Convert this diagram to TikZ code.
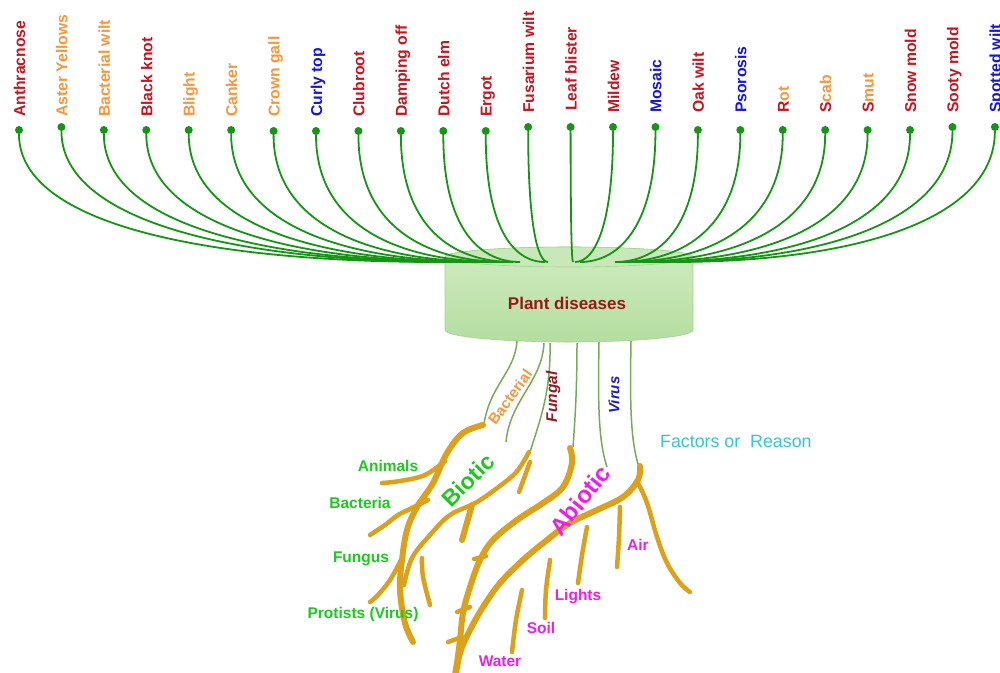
\documentclass[tikz,border=0pt]{standalone}
\usepackage{fontspec}
\setmainfont{Liberation Sans}
\usetikzlibrary{calc}
\definecolor{lred}{RGB}{200,20,30}
\definecolor{lorange}{RGB}{247,150,60}
\definecolor{lblue}{RGB}{20,20,230}
\definecolor{dgreen}{RGB}{20,150,20}
\definecolor{lgreen}{RGB}{30,200,30}
\definecolor{mag}{RGB}{235,30,235}
\definecolor{cyanT}{RGB}{50,200,205}
\definecolor{rootc}{RGB}{220,160,25}
\definecolor{threadc}{RGB}{120,170,90}
\definecolor{pdred}{RGB}{150,25,25}
\definecolor{fungc}{RGB}{150,25,35}
\definecolor{virc}{RGB}{30,30,190}
\definecolor{cylT}{RGB}{208,236,192}
\definecolor{cylB}{RGB}{180,222,160}
\definecolor{cylTop}{RGB}{200,232,185}
\definecolor{cylE}{RGB}{165,210,145}
\begin{document}
\begin{tikzpicture}[x=1pt,y=-1pt,
  dot/.style={circle,fill=dgreen,inner sep=0pt,minimum size=8pt},
  curve/.style={draw=dgreen,line width=1.8pt},
  toplab/.style={rotate=90,anchor=base west,inner sep=0pt,font=\fontsize{15.7}{18}\selectfont\bfseries},
  thread/.style={draw=threadc,line width=1.5pt},
  rootm/.style={draw=rootc,line width=6pt,line cap=round,line join=round},
  roots/.style={draw=rootc,line width=4.5pt,line cap=round,line join=round},
  smalllab/.style={font=\fontsize{15.5}{18}\selectfont\bfseries,inner sep=0pt,anchor=base},
]
\fill[white] (0,0) rectangle (1000,672);
\useasboundingbox (0,0) rectangle (1000,672);

% cylinder
\path[top color=cylT,bottom color=cylB,draw=cylE,line width=0.6pt]
  (445,257) -- (445,330) arc[start angle=180,end angle=0,x radius=124,y radius=12]
  -- (693,257) arc[start angle=0,end angle=-180,x radius=124,y radius=10] -- cycle;
\draw[cylE,fill=cylTop,line width=0.6pt] (569,257) ellipse [x radius=124,y radius=10];
\node[font=\fontsize{17}{20}\selectfont\bfseries,text=pdred,inner sep=0pt,anchor=base] (pd) at (567,309) {Plant diseases};

% top dots and labels
\foreach \i/\yd/\yl/\ex/\txt in {
 0/130/117/440/{\color{lred}Anthracnose},
 1/127/117/455/{\color{lorange}Aster Yellows},
 2/130/117/465/{\color{lorange}Bacterial wilt},
 3/130/117/472/{\color{lred}Black knot},
 4/130/117/478/{\color{lorange}Blight},
 5/130/117/485/{\color{lorange}Canker},
 6/131/117/492/{\color{lorange}Crown gall},
 7/131/117/500/{\color{lblue}Curly top},
 8/131/117/507/{\color{lred}Clubroot},
 9/131/117/513/{\color{lred}Damping off},
 10/131/117/520/{\color{lred}Dutch elm},
 11/131/117/545/{\color{lred}Ergot},
 12/127/113/548/{\color{lred}Fusarium wilt},
 13/127/111/573/{\color{lred}Leaf blister},
 14/127/113/575/{\color{lred}Mildew},
 15/127/113/580/{\color{lblue}Mosaic},
 16/130/113/615/{\color{lred}Oak wilt},
 17/130/113/618/{\color{lblue}Psorosis},
 18/130/113/622/{\color{lred}R\color{lorange}ot},
 19/130/113/630/{\color{lred}S\color{lorange}cab},
 20/130/113/640/{\color{lred}S\color{lorange}mut},
 21/130/113/650/{\color{lred}Snow mold},
 22/127/113/660/{\color{lred}Sooty mold},
 23/127/113/672/{\color{lblue}Spotted wilt}}{
  \pgfmathsetmacro{\xx}{19+42.43*\i}
  \pgfmathsetmacro{\lx}{\xx+6}
  \pgfmathsetmacro{\cx}{-0.55*(\ex-\xx)}
  \node[dot] (d\i) at (\xx,\yd) {};
  \node[toplab] (l\i) at (\lx,\yl) {\txt};
  \coordinate (e\i) at (\ex,262);
  \draw[curve] (d\i) .. controls +(0,95) and +(\cx,0) .. (e\i);
}

% threads from the cylinder
\coordinate (t1) at (517,341); \coordinate (b1) at (484,424);
\coordinate (t2) at (544,343); \coordinate (b2) at (506,442);
\coordinate (t3) at (550,343); \coordinate (b3) at (530,452);
\coordinate (t4) at (577,343); \coordinate (b4) at (573,447);
\coordinate (t5) at (599,342); \coordinate (b5) at (607,467);
\coordinate (t6) at (631,341); \coordinate (b6) at (639,467);
\draw[thread] (t1) .. controls (515,372) and (490,385) .. (b1);
\draw[thread] (t2) .. controls (542,382) and (510,400) .. (b2);
\draw[thread] (t3) .. controls (551,392) and (540,420) .. (b3);
\draw[thread] (t4) .. controls (577,390) and (575,420) .. (b4);
\draw[thread] (t5) .. controls (598,400) and (598,440) .. (b5);
\draw[thread] (t6) .. controls (630,400) and (630,440) .. (b6);

% roots
\draw[rootm] plot[smooth,tension=0.6] coordinates {(483,425) (463,433) (447,453) (433,483) (417,507) (407,530) (402,560) (400,590) (405,623) (413,642)};
\draw[roots] plot[smooth,tension=0.6] coordinates {(445,461) (425,475) (400,481) (382,483)};
\draw[roots] plot[smooth,tension=0.6] coordinates {(428,500) (412,508) (398,515) (385,525) (370,535)};
\draw[roots] plot[smooth,tension=0.6] coordinates {(401,560) (390,580) (378,595) (370,602)};
\draw[roots] plot[smooth,tension=0.6] coordinates {(529,452) (518,470) (505,482) (477,502) (450,515) (430,535) (412,558) (404,585)};
\draw[roots] (530,462) -- (519,492);
\draw[rootm] (472,505) -- (462,540);
\draw[roots] plot[smooth,tension=0.6] coordinates {(422,558) (423,577) (430,605)};
\draw[rootm] plot[smooth,tension=0.6] coordinates {(570,448) (572,463) (563,487) (543,503) (517,520) (493,540) (480,560) (470,587) (463,613) (460,640) (457,663) (454,680)};
\draw[roots] (474,559) -- (486,556);
\draw[roots] (457,612) -- (470,607);
\draw[roots] (448,642) -- (462,637);
\draw[rootm] plot[smooth,tension=0.6] coordinates {(640,466) (638,480) (623,497) (597,510) (570,523) (547,540) (523,560) (500,583) (483,607) (470,630) (460,653) (455,680)};
\draw[roots] plot[smooth,tension=0.6] coordinates {(638,483) (647,503) (657,537) (667,563) (680,583) (690,592)};
\draw[roots] plot[smooth,tension=0.6] coordinates {(620,507) (619,537) (617,567)};
\draw[roots] plot[smooth,tension=0.6] coordinates {(587,527) (582,555) (578,583)};
\draw[roots] plot[smooth,tension=0.6] coordinates {(550,560) (546,590) (545,618)};
\draw[roots] plot[smooth,tension=0.6] coordinates {(522,590) (516,620) (512,652)};

% labels on threads and roots
\node[font=\fontsize{15}{18}\selectfont\bfseries,text=lorange,rotate=54,inner sep=0pt] (bac) at (510,397) {Bacterial};
\node[font=\fontsize{15.5}{18}\selectfont\bfseries\itshape,text=fungc,rotate=90,inner sep=0pt] (fun) at (553,397) {Fungal};
\node[font=\fontsize{15}{18}\selectfont\bfseries\itshape,text=virc,rotate=90,inner sep=0pt] (vir) at (614,395) {Virus};
\node[anchor=base west,inner sep=0pt,font=\fontsize{17.8}{20}\selectfont,text=cyanT] (fac) at (660,447) {Factors or\ \ Reason};
\node[font=\fontsize{23}{26}\selectfont\bfseries,text=lgreen,rotate=45,inner sep=0pt] (bio) at (468,480) {Biotic};
\node[font=\fontsize{24}{27}\selectfont\bfseries,text=mag,rotate=51,inner sep=0pt] (abio) at (580,500) {Abiotic};

\node[smalllab,text=lgreen] (ani) at (388,471) {Animals};
\node[smalllab,text=lgreen] (bact) at (360,508) {Bacteria};
\node[smalllab,text=lgreen] (fung) at (361,562) {Fungus};
\node[smalllab,text=lgreen] (prot) at (363,618) {Protists (Virus)};
\node[smalllab,text=mag] (air) at (638,550) {Air};
\node[smalllab,text=mag] (lig) at (578,600) {Lights};
\node[smalllab,text=mag] (soil) at (541,633) {Soil};
\node[smalllab,text=mag] (wat) at (500,666) {Water};
\end{tikzpicture}
\end{document}
